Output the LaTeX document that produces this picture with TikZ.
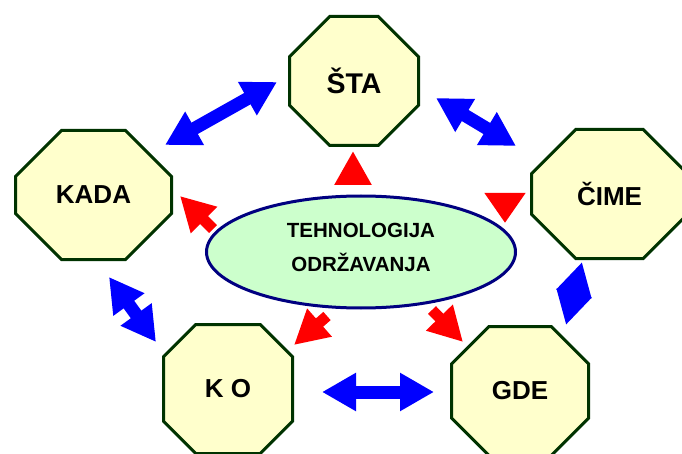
\documentclass[tikz,border=0pt]{standalone}
\usepackage{fontspec}
\setmainfont{Liberation Sans}
\usepackage{tikz}
\usetikzlibrary{arrows.meta, positioning, shapes.geometric, shapes.misc, calc}
\definecolor{octFill}{RGB}{255,255,204}
\definecolor{octLine}{RGB}{0,51,0}
\definecolor{ellFill}{RGB}{204,255,204}
\definecolor{ellLine}{RGB}{0,0,128}
\definecolor{arrBlue}{RGB}{0,0,255}
\definecolor{arrRed}{RGB}{255,0,0}

\begin{document}
\begin{tikzpicture}[x=1pt,y=-1pt,
    oct/.style={chamfered rectangle,chamfered rectangle xsep=37pt,
      chamfered rectangle ysep=37pt,inner sep=0pt,minimum height=129pt,
      draw=octLine,fill=octFill,line width=3pt,
      font=\bfseries\fontsize{26}{30}\selectfont},
    bluedbl/.style={draw=arrBlue,line width=13pt,
      {Triangle[width=36pt,length=34pt]}-{Triangle[width=36pt,length=34pt]}},
    redarr/.style={draw=arrRed,line width=11pt,
      -{Triangle[width=35pt,length=34pt]}}]
  \useasboundingbox (0,0) rectangle (682,454);

  % Octagons
  \node[oct,minimum width=156pt] (kada) at (93.5,195) {KADA};
  \node[oct,minimum width=129pt,font=\bfseries\fontsize{28.5}{32}\selectfont]
    (sta) at (354,81) {ŠTA};
  \node[oct,minimum width=156pt] (cime) at (609.5,194) {ČIME};
  \node[oct,minimum width=129pt] (ko)   at (228,389)  {K O};
  \node[oct,minimum width=137pt] (gde)  at (520,391)  {GDE};

  % Centre
  \node[ellipse,draw=ellLine,fill=ellFill,line width=3pt,inner sep=0pt,
        minimum width=309pt,minimum height=112pt,align=center,text depth=9pt,
        font=\bfseries\fontsize{20.5}{34}\selectfont] (ell) at (361,252)
    {TEHNOLOGIJA\\ODRŽAVANJA};

  % Blue double arrows round the ring
  \draw[bluedbl] ($(kada)+(71.5,-50)$) -- ($(sta)+(-77,1)$);
  \draw[bluedbl] ($(sta)+(82,17)$) -- ($(cime)+(-93.5,-48)$);
  \draw[draw=arrBlue,line width=13pt,
        {Triangle[width=34pt,length=33pt]}-{Triangle[width=34pt,length=33pt]}]
    ($(cime)+(-27.5,68)$) -- ($(gde)+(46,-66)$);
  \draw[bluedbl] ($(kada)+(15.5,82)$) -- ($(ko)+(-72,-47)$);
  \draw[bluedbl] ($(ko)+(94,3)$) -- ($(gde)+(-86,1)$);

  % Red arrows from the centre
  \draw[redarr] ($(ell)+(-8,-67)$) -- ($(sta)+(-1,70)$);
  \draw[draw=arrRed,line width=11pt,-{Triangle[width=39pt,length=30pt]}]
    ($(cime)+(-104.5,-1)$) -- ($(ell)+(144,-29)$);
  \draw[redarr] ($(ell)+(-148,-23)$) -- ($(kada)+(86.5,1)$);
  \draw[redarr] ($(ell)+(-34,64)$) -- ($(ko)+(66,-44)$);
  \draw[redarr] ($(ell)+(71,58)$) -- ($(gde)+(-57,-49)$);
\end{tikzpicture}
\end{document}
